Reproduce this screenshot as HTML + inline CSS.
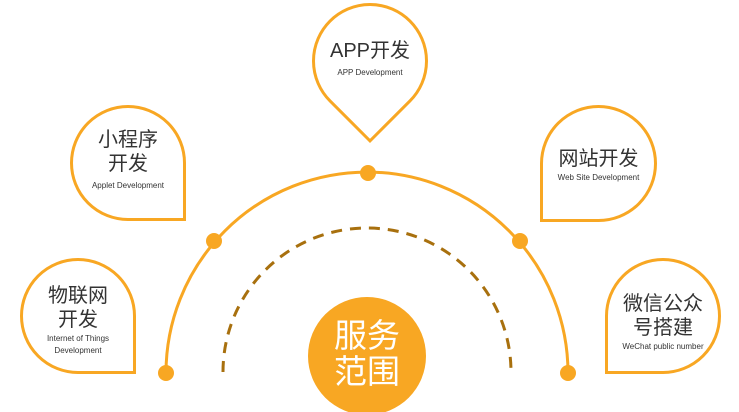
<!DOCTYPE html>
<html><head><meta charset="utf-8"><style>
html,body{margin:0;padding:0;background:#fff;}
body{width:739px;height:412px;position:relative;overflow:hidden;font-family:"Liberation Sans","Noto Sans CJK SC",sans-serif;color:#333;}
.pin{position:absolute;box-sizing:border-box;border:3px solid #f8a723;background:#fff;}
.t{position:absolute;text-align:center;white-space:nowrap;}
.cn{font-size:20px;line-height:24px;color:#333;}
.en{font-size:8px;line-height:10px;color:#333;}
</style></head><body>
<svg width="739" height="412" style="position:absolute;left:0;top:0">
<path d="M166 373 A201 201 0 0 1 568 373" fill="none" stroke="#f8a723" stroke-width="3"/>
<path d="M223 372 A144 144 0 0 1 511 372" fill="none" stroke="#a8700e" stroke-width="3" stroke-dasharray="11 8"/>
<g fill="#f8a723">
<circle cx="166" cy="373" r="8"/><circle cx="214" cy="241" r="8"/><circle cx="368" cy="173" r="8"/><circle cx="520" cy="241" r="8"/><circle cx="568" cy="373" r="8"/>
<circle cx="367" cy="356" r="59"/>
</g>
</svg>
<div class="pin" style="left:312px;top:3px;width:116px;height:116px;border-radius:50% 50% 0 50%;transform:rotate(45deg);"></div>
<div class="pin" style="left:70px;top:105px;width:116px;height:116px;border-radius:50% 50% 0 50%;"></div>
<div class="pin" style="left:20px;top:258px;width:116px;height:116px;border-radius:50% 50% 0 50%;"></div>
<div class="pin" style="left:540px;top:105px;width:117px;height:117px;border-radius:50% 50% 50% 0;"></div>
<div class="pin" style="left:605px;top:258px;width:116px;height:116px;border-radius:50% 50% 50% 0;"></div>

<div class="t cn" style="left:312px;width:116px;top:39px;">APP开发</div>
<div class="t en" style="left:312px;width:116px;top:68px;">APP Development</div>

<div class="t cn" style="left:70px;width:116px;top:128px;">小程序<br>开发</div>
<div class="t en" style="left:70px;width:116px;top:181px;">Applet Development</div>

<div class="t cn" style="left:20px;width:116px;top:284px;">物联网<br>开发</div>
<div class="t en" style="left:20px;width:116px;top:333px;line-height:12px;">Internet of Things<br>Development</div>

<div class="t cn" style="left:540px;width:117px;top:147px;">网站开发</div>
<div class="t en" style="left:540px;width:117px;top:173px;">Web Site Development</div>

<div class="t cn" style="left:605px;width:116px;top:292px;">微信公众<br>号搭建</div>
<div class="t en" style="left:605px;width:116px;top:342px;">WeChat public number</div>

<div class="t" style="left:308px;width:118px;top:318px;font-size:33px;line-height:36px;color:#fff;">服务<br>范围</div>
</body></html>
